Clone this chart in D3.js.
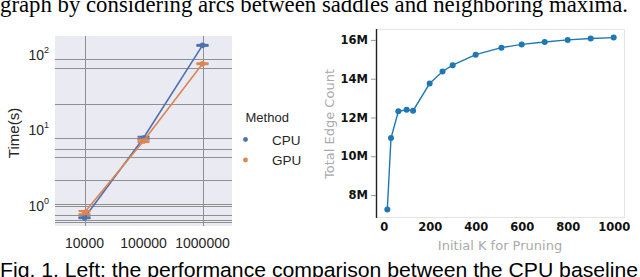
<!DOCTYPE html>
<html><head><meta charset="utf-8">
<script src="https://cdn.jsdelivr.net/npm/d3@7"></script>
<style>body{margin:0;background:#fff}svg{display:block}</style>
</head><body>
<svg id="c" width="640" height="277"></svg>
<script>
// ---------- data ----------
const sizes = ["10000", "100000", "1000000"];
const cpuMean = [0.70, 7.9, 132];
const cpuLo   = [0.69, 7.6, 130];
const cpuHi   = [0.71, 8.2, 134];
const gpuMean = [0.82, 7.2, 75.5];
const gpuLo   = [0.78, 7.0, 74.5];
const gpuHi   = [0.86, 7.5, 76.5];
const logTicks = [1, 10, 100];
const logGrid = [86.5, 66.4, 22.2, 7.9, 5.7, 4.5, 2.19, 1.07, 1.0, 0.77, 0.66, 0.61];
const vGrid = ["10000", "1000000"];
const methods = ["CPU", "GPU"];

const kValues = [16, 32, 64, 100, 128, 200, 256, 300, 400, 512, 600, 700, 800, 900, 1000];
const edgeCount = [7.26, 10.94, 12.32, 12.40, 12.35, 13.75, 14.37, 14.70, 15.24, 15.60, 15.77, 15.89, 16.00, 16.07, 16.12];
const kTicks = [0, 200, 400, 600, 800, 1000];
const countTicks = [8, 10, 12, 14, 16];

const topText = "graph by considering arcs between saddles and neighboring maxima.";
const caption = "Fig. 1. Left: the performance comparison between the CPU baseline";

const svg = d3.select("#c");
const blue = "#4C72B0", orange = "#DD8452";
const sans = "'Liberation Sans', Arial, sans-serif";

// ---------- page text ----------
svg.append("text").attr("x", 0).attr("y", 12)
  .attr("font-family", "'Liberation Serif', 'Times New Roman', serif")
  .attr("font-size", 22.5).attr("fill", "#000")
  .attr("textLength", 628).attr("lengthAdjust", "spacingAndGlyphs").text(topText);
svg.append("text").attr("x", 0).attr("y", 277)
  .attr("font-family", sans)
  .attr("font-size", 20.5).attr("fill", "#000")
  .attr("textLength", 638).attr("lengthAdjust", "spacingAndGlyphs").text(caption);

// ---------- left chart ----------
const L = {x0: 55, x1: 232, y0: 36, y1: 226};
const xL = d3.scalePoint().domain(sizes).range([L.x0, L.x1]).padding(0.5);
const yL = d3.scaleLog().domain([1, 100]).range([206, 54.5]);
const gl = svg.append("g");
gl.append("rect").attr("x", L.x0).attr("y", L.y0)
  .attr("width", L.x1 - L.x0).attr("height", L.y1 - L.y0).attr("fill", "#EAEAF2");
gl.selectAll("line.hg").data(logGrid).join("line").attr("class", "hg")
  .attr("x1", L.x0).attr("x2", L.x1)
  .attr("y1", d => Math.round(yL(d)) + 0.5).attr("y2", d => Math.round(yL(d)) + 0.5)
  .attr("stroke", "#8f8f8f").attr("stroke-width", 1);
gl.selectAll("line.vg").data(vGrid).join("line").attr("class", "vg")
  .attr("x1", d => Math.round(xL(d)) + 0.5).attr("x2", d => Math.round(xL(d)) + 0.5)
  .attr("y1", L.y0).attr("y2", L.y1)
  .attr("stroke", "#8f8f8f").attr("stroke-width", 1);

// y tick labels 10^k
const yt = gl.selectAll("text.yt").data(logTicks).join("text").attr("class", "yt")
  .attr("x", 49).attr("y", d => yL(d) + 5)
  .attr("text-anchor", "end").attr("font-family", sans).attr("font-size", 14).attr("fill", "#262626");
yt.text("10");
yt.append("tspan").attr("dy", -7).attr("font-size", 9).text(d => Math.round(Math.log10(d)));

// x tick labels
gl.selectAll("text.xt").data(sizes).join("text").attr("class", "xt")
  .attr("x", d => xL(d)).attr("y", 248)
  .attr("text-anchor", "middle").attr("font-family", sans).attr("font-size", 14).attr("fill", "#262626")
  .text(d => d);

gl.append("text").attr("transform", "translate(19,133) rotate(-90)")
  .attr("text-anchor", "middle").attr("font-family", sans).attr("font-size", 15).attr("fill", "#262626")
  .text("Time(s)");

const series = [
  {name: "CPU", color: blue, mean: cpuMean, lo: cpuLo, hi: cpuHi},
  {name: "GPU", color: orange, mean: gpuMean, lo: gpuLo, hi: gpuHi}
];
const lineL = d3.line().x((d, i) => xL(sizes[i])).y(d => yL(d));
series.forEach(s => {
  const g = gl.append("g");
  g.append("path").attr("d", lineL(s.mean)).attr("fill", "none")
    .attr("stroke", s.color).attr("stroke-width", 1.6);
  sizes.forEach((c, i) => {
    const cx = xL(c);
    g.append("line").attr("x1", cx).attr("x2", cx).attr("y1", yL(s.lo[i])).attr("y2", yL(s.hi[i]))
      .attr("stroke", s.color).attr("stroke-width", 1.6);
    [s.lo[i], s.hi[i]].forEach(v => {
      g.append("line").attr("x1", cx - 6).attr("x2", cx + 6).attr("y1", yL(v)).attr("y2", yL(v))
        .attr("stroke", s.color).attr("stroke-width", 2);
    });
    g.append("circle").attr("cx", cx).attr("cy", yL(s.mean[i])).attr("r", 2.8).attr("fill", s.color);
  });
});

// legend
gl.append("text").attr("x", 245.5).attr("y", 122).attr("font-family", sans)
  .attr("font-size", 13).attr("fill", "#262626").text("Method");
methods.forEach((m, i) => {
  const yy = 139.5 + i * 20.5;
  gl.append("circle").attr("cx", 245.5).attr("cy", yy).attr("r", 2.4).attr("fill", series[i].color);
  gl.append("text").attr("x", 272).attr("y", yy + 5).attr("font-family", sans)
    .attr("font-size", 13.5).attr("fill", "#262626").text(m);
});

// ---------- right chart ----------
const R = {x0: 376, x1: 625, y0: 29, y1: 218};
const xR = d3.scaleLinear().domain([-33.2, 1049.2]).range([R.x0, R.x1]);
const yR = d3.scaleLinear().domain([6.817, 16.563]).range([R.y1, R.y0]);
const gr = svg.append("g");
gr.append("rect").attr("x", R.x0 + 0.5).attr("y", R.y0 + 0.5)
  .attr("width", R.x1 - R.x0 - 1).attr("height", R.y1 - R.y0 - 1)
  .attr("fill", "none").attr("stroke", "#e4e4e4").attr("stroke-width", 1);
gr.append("line").attr("x1", R.x0 + 0.5).attr("x2", R.x0 + 0.5).attr("y1", R.y0).attr("y2", R.y1)
  .attr("stroke", "#222").attr("stroke-width", 1.4);

const yAx = gr.append("g").attr("transform", `translate(${R.x0},0)`)
  .call(d3.axisLeft(yR).tickValues(countTicks).tickSize(5).tickPadding(3).tickFormat(d => d + "M"));
yAx.select(".domain").remove();
yAx.selectAll(".tick line").attr("stroke", "#999");
yAx.selectAll("text").attr("font-family", "'DejaVu Sans', sans-serif").attr("font-weight", "bold")
  .attr("font-size", 11.5).attr("fill", "#111");

const xAx = gr.append("g").attr("transform", `translate(0,${R.y1})`)
  .call(d3.axisBottom(xR).tickValues(kTicks).tickSize(0).tickPadding(5).tickFormat(d3.format("d")));
xAx.select(".domain").remove();
xAx.selectAll("text").attr("font-family", "'DejaVu Sans', sans-serif").attr("font-weight", "bold")
  .attr("font-size", 11.5).attr("fill", "#111");

gr.append("text").attr("transform", "translate(333.5,124) rotate(-90)")
  .attr("text-anchor", "middle").attr("font-family", "'DejaVu Sans', sans-serif")
  .attr("font-size", 13).attr("fill", "#aaa").text("Total Edge Count");
gr.append("text").attr("x", 500).attr("y", 249.5)
  .attr("text-anchor", "middle").attr("font-family", "'DejaVu Sans', sans-serif")
  .attr("font-size", 13).attr("fill", "#aaa").text("Initial K for Pruning");

const lineR = d3.line().x((d, i) => xR(kValues[i])).y(d => yR(d));
gr.append("path").attr("d", lineR(edgeCount)).attr("fill", "none")
  .attr("stroke", "#1f77b4").attr("stroke-width", 1.4);
gr.selectAll("circle").data(edgeCount).join("circle")
  .attr("cx", (d, i) => xR(kValues[i])).attr("cy", d => yR(d)).attr("r", 3).attr("fill", "#1f77b4");
</script>
</body></html>
